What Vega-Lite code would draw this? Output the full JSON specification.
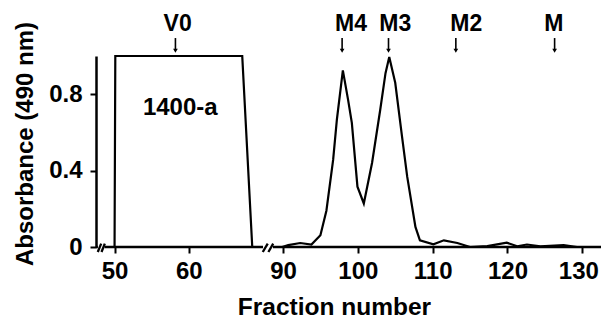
{
  "$schema": "https://vega.github.io/schema/vega-lite/v6.json",
  "width": 505,
  "height": 191,
  "autosize": {"type": "none"},
  "padding": {"left": 96, "top": 56, "right": 0, "bottom": 73},
  "background": "white",
  "config": {
    "view": {"stroke": null},
    "font": "Liberation Sans",
    "axis": {"grid": false, "labelFont": "Liberation Sans", "titleFont": "Liberation Sans", "labelColor": "black", "titleColor": "black"}
  },
  "datasets": {
    "profile": [
      {"series": "box", "x": 50.0, "y": 0.0},
      {"series": "box", "x": 50.1, "y": 1.0},
      {"series": "box", "x": 67.2, "y": 1.0},
      {"series": "box", "x": 68.55, "y": 0.0},
      {"series": "curve", "x": 89.4, "y": 0.0},
      {"series": "curve", "x": 90.7, "y": 0.01},
      {"series": "curve", "x": 92.3, "y": 0.021},
      {"series": "curve", "x": 93.8, "y": 0.013},
      {"series": "curve", "x": 95.0, "y": 0.062},
      {"series": "curve", "x": 95.8, "y": 0.19},
      {"series": "curve", "x": 96.7, "y": 0.456},
      {"series": "curve", "x": 97.2, "y": 0.667},
      {"series": "curve", "x": 98.0, "y": 0.925},
      {"series": "curve", "x": 98.7, "y": 0.77},
      {"series": "curve", "x": 99.2, "y": 0.65},
      {"series": "curve", "x": 99.95, "y": 0.316},
      {"series": "curve", "x": 100.8, "y": 0.228},
      {"series": "curve", "x": 101.9, "y": 0.44},
      {"series": "curve", "x": 103.0, "y": 0.72},
      {"series": "curve", "x": 103.7, "y": 0.91},
      {"series": "curve", "x": 104.2, "y": 0.995},
      {"series": "curve", "x": 105.0, "y": 0.86},
      {"series": "curve", "x": 105.9, "y": 0.58},
      {"series": "curve", "x": 106.6, "y": 0.368},
      {"series": "curve", "x": 107.7, "y": 0.105},
      {"series": "curve", "x": 108.3, "y": 0.035},
      {"series": "curve", "x": 110.1, "y": 0.014},
      {"series": "curve", "x": 111.5, "y": 0.035},
      {"series": "curve", "x": 113.3, "y": 0.021},
      {"series": "curve", "x": 115.0, "y": 0.0},
      {"series": "curve", "x": 117.3, "y": 0.005},
      {"series": "curve", "x": 119.9, "y": 0.023},
      {"series": "curve", "x": 121.3, "y": 0.004},
      {"series": "curve", "x": 122.6, "y": 0.013},
      {"series": "curve", "x": 124.4, "y": 0.004},
      {"series": "curve", "x": 127.5, "y": 0.01},
      {"series": "curve", "x": 129.3, "y": 0.0}
    ],
    "segments": [
      {"part": "axis", "x": 47.5, "x2": 47.75, "y": 0, "y2": 0},
      {"part": "axis", "x": 48.65, "x2": 74.7, "y": 0, "y2": 0},
      {"part": "axis", "x": 82.3, "x2": 132.5, "y": 0, "y2": 0},
      {"part": "break", "x": 47.74, "x2": 48.2, "y": -0.026, "y2": 0.018},
      {"part": "break", "x": 48.24, "x2": 48.69, "y": -0.026, "y2": 0.018},
      {"part": "break", "x": 74.5, "x2": 78.3, "y": -0.026, "y2": 0.018},
      {"part": "break", "x": 78.8, "x2": 82.5, "y": -0.026, "y2": 0.018}
    ],
    "markers": [
      {"label": "V0", "lx": 58.5, "ax": 58.2},
      {"label": "M4", "lx": 99.1, "ax": 97.9},
      {"label": "M3", "lx": 105.0, "ax": 104.1},
      {"label": "M2", "lx": 114.5, "ax": 113.1},
      {"label": "M", "lx": 126.2, "ax": 126.3}
    ],
    "notes": [
      {"text": "1400-a", "x": 58.85, "y": 0.691}
    ]
  },
  "layer": [
    {
      "data": {"name": "profile"},
      "mark": {"type": "line", "color": "black", "strokeWidth": 2.2, "clip": false},
      "encoding": {
        "x": {
          "field": "x", "type": "quantitative",
          "scale": {"domain": [47.5, 69, 90, 132.5], "range": [0, 159.6, 187, 505], "nice": false, "zero": false},
          "axis": {
            "values": [50, 60, 90, 100, 110, 120, 130],
            "domain": false,
            "ticks": true, "tickSize": 6, "tickWidth": 2, "tickColor": "black",
            "labelFontSize": 24, "labelFontWeight": "bold", "labelBaseline": "alphabetic", "labelPadding": 25,
            "labelOffset": {"condition": {"test": "datum.value == 130", "value": -4}, "value": 0},
            "labelFlush": false, "labelOverlap": false,
            "title": "Fraction number", "titleFontSize": 24.5, "titleFontWeight": "bold",
            "titleX": 238, "titleY": 67, "titleBaseline": "alphabetic", "titleAlign": "center", "titleAnchor": null
          }
        },
        "y": {
          "field": "y", "type": "quantitative",
          "scale": {"domain": [0, 1], "nice": false, "zero": false},
          "axis": {
            "values": [0, 0.4, 0.8],
            "format": "~g",
            "domain": true, "domainColor": "black", "domainWidth": 2.5,
            "ticks": true, "tickSize": 6, "tickWidth": 2, "tickColor": "black",
            "labelFontSize": 24, "labelFontWeight": "bold", "labelPadding": 8, "labelBaseline": "middle",
            "labelFlush": false, "labelOverlap": false,
            "title": "Absorbance (490 nm)", "titleFontSize": 24, "titleFontWeight": "bold",
            "titleX": -71, "titleY": 87.5, "titleBaseline": "middle", "titleAlign": "center", "titleAngle": -90
          }
        },
        "detail": {"field": "series", "type": "nominal"}
      }
    },
    {
      "data": {"name": "segments"},
      "mark": {"type": "rule", "color": "black", "strokeWidth": 2.3, "clip": false},
      "encoding": {
        "x": {"field": "x", "type": "quantitative"},
        "x2": {"field": "x2"},
        "y": {"field": "y", "type": "quantitative"},
        "y2": {"field": "y2"}
      }
    },
    {
      "data": {"name": "markers"},
      "mark": {"type": "rule", "color": "black", "strokeWidth": 1.6, "clip": false},
      "encoding": {
        "x": {"field": "ax", "type": "quantitative"},
        "y": {"datum": 1.094, "type": "quantitative"},
        "y2": {"datum": 1.03}
      }
    },
    {
      "data": {"name": "markers"},
      "mark": {"type": "point", "shape": "triangle-down", "filled": true, "color": "black", "size": 22, "opacity": 1, "clip": false},
      "encoding": {
        "x": {"field": "ax", "type": "quantitative"},
        "y": {"datum": 1.027, "type": "quantitative"}
      }
    },
    {
      "data": {"name": "markers"},
      "mark": {"type": "text", "fontSize": 23, "fontWeight": "bold", "color": "black", "baseline": "alphabetic", "align": "center", "clip": false},
      "encoding": {
        "x": {"field": "lx", "type": "quantitative"},
        "y": {"datum": 1.13, "type": "quantitative"},
        "text": {"field": "label"}
      }
    },
    {
      "data": {"name": "notes"},
      "mark": {"type": "text", "fontSize": 24, "fontWeight": "bold", "color": "black", "baseline": "alphabetic", "align": "center"},
      "encoding": {
        "x": {"field": "x", "type": "quantitative"},
        "y": {"field": "y", "type": "quantitative"},
        "text": {"field": "text"}
      }
    }
  ]
}
